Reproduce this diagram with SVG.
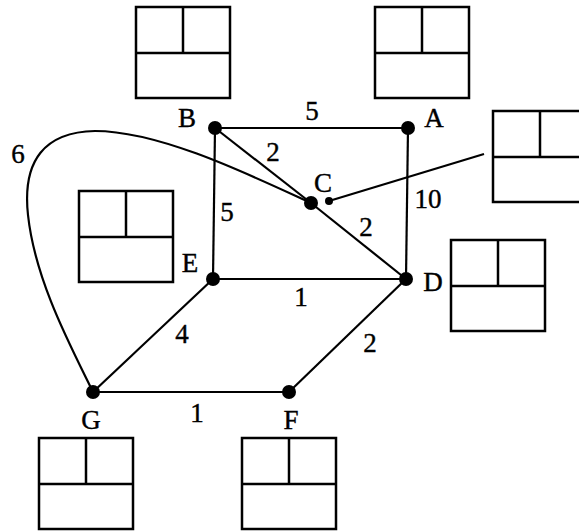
<svg xmlns="http://www.w3.org/2000/svg" width="579" height="532" viewBox="0 0 579 532">
<style>
.box{fill:none;stroke:#000;stroke-width:2.5}
.e{fill:none;stroke:#000;stroke-width:2.2}
.lbl{font-family:"Liberation Serif","Times New Roman",serif;font-size:27px;fill:#000;text-anchor:middle;stroke:#000;stroke-width:0.4}
.dot{fill:#000}
</style>
<defs>
<g id="rec">
<rect class="box" x="0" y="0" width="94" height="91"/>
<line class="box" x1="0" y1="46" x2="94" y2="46"/>
<line class="box" x1="47" y1="0" x2="47" y2="46"/>
</g>
</defs>
<rect width="579" height="532" fill="#fff"/>
<g id="connectors">
<line class="e" x1="215" y1="128" x2="408" y2="128"/>
<line class="e" x1="408" y1="128" x2="406" y2="279"/>
<line class="e" x1="215" y1="128" x2="213" y2="279"/>
<line class="e" x1="215" y1="128" x2="311" y2="203"/>
<line class="e" x1="311" y1="203" x2="406" y2="279"/>
<line class="e" x1="213" y1="279" x2="406" y2="279"/>
<line class="e" x1="213" y1="279" x2="93" y2="392"/>
<line class="e" x1="93" y1="392" x2="289" y2="392"/>
<line class="e" x1="289" y1="392" x2="406" y2="279"/>
<path class="e" d="M93,392 C70,345 35,280 28,215 C22,160 45,132 95,131 C160,131 250,175 311,203"/>
<line class="e" x1="329" y1="201" x2="484" y2="154"/>
<text class="lbl" x="312" y="120">5</text>
<text class="lbl" x="273" y="161">2</text>
<text class="lbl" x="227" y="221">5</text>
<text class="lbl" x="428" y="208">10</text>
<text class="lbl" x="366" y="236">2</text>
<text class="lbl" x="301" y="306">1</text>
<text class="lbl" x="182" y="343">4</text>
<text class="lbl" x="370" y="352">2</text>
<text class="lbl" x="197" y="422">1</text>
<text class="lbl" x="18" y="163">6</text>
</g>
<g id="node-A">
<circle class="dot" cx="408" cy="128" r="7"/>
<text class="lbl" x="434" y="127">A</text>
<use href="#rec" x="375" y="7"/>
</g>
<g id="node-B">
<circle class="dot" cx="215" cy="128" r="7"/>
<text class="lbl" x="187" y="127">B</text>
<use href="#rec" x="136" y="7"/>
</g>
<g id="node-C">
<circle class="dot" cx="311" cy="203" r="7"/>
<circle class="dot" cx="329" cy="201" r="4"/>
<text class="lbl" x="323" y="192">C</text>
<use href="#rec" x="493" y="111"/>
</g>
<g id="node-D">
<circle class="dot" cx="406" cy="279" r="7"/>
<text class="lbl" x="433" y="291">D</text>
<use href="#rec" x="451" y="240"/>
</g>
<g id="node-E">
<circle class="dot" cx="213" cy="279" r="7"/>
<text class="lbl" x="190" y="272">E</text>
<use href="#rec" x="79" y="191"/>
</g>
<g id="node-F">
<circle class="dot" cx="289" cy="392" r="7"/>
<text class="lbl" x="291" y="429">F</text>
<use href="#rec" x="242" y="438"/>
</g>
<g id="node-G">
<circle class="dot" cx="93" cy="392" r="7"/>
<text class="lbl" x="91" y="429">G</text>
<use href="#rec" x="39" y="438"/>
</g>
</svg>
